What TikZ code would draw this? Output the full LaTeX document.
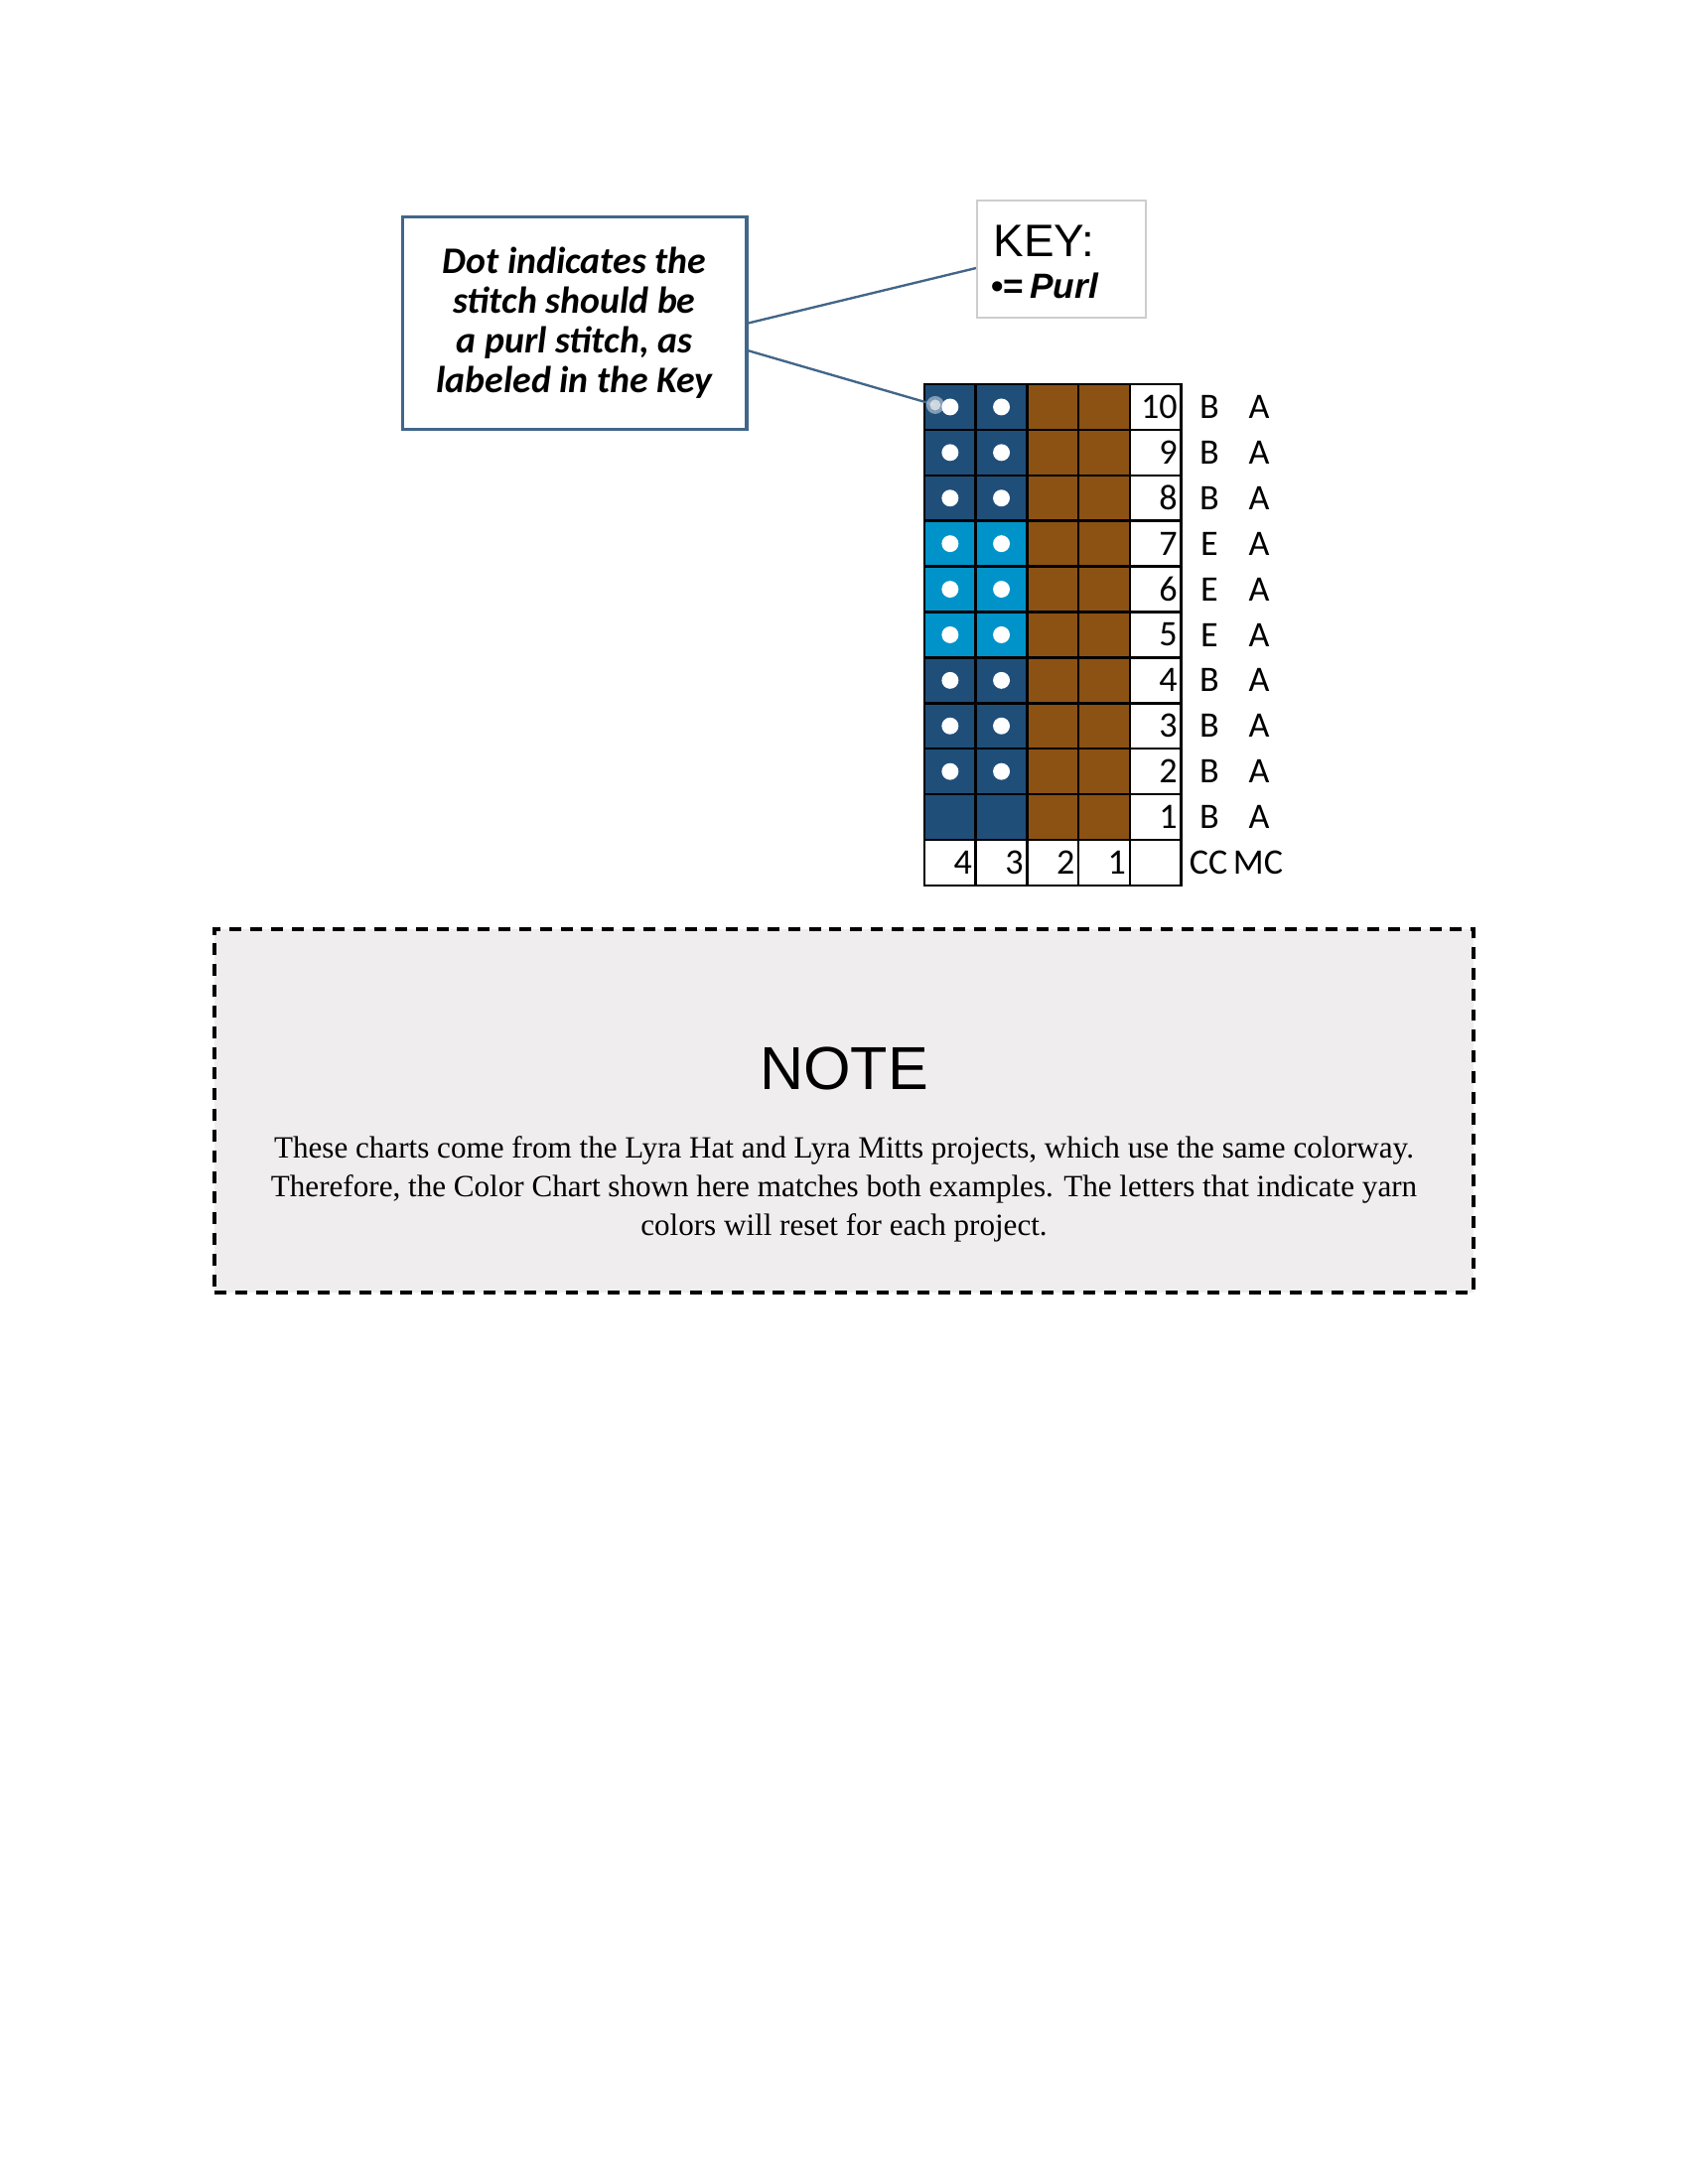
\documentclass[tikz,border=0pt]{standalone}
\usepackage{fontspec}
\setmainfont{Liberation Serif}
\newfontfamily\calfont{Carlito}
\newfontfamily\keyfont{Liberation Sans}
\usepackage{tikz}
\usetikzlibrary{
	calc,
	positioning
}
\definecolor{NavyYarn}{RGB}{31,78,121}
\definecolor{SkyYarn}{RGB}{0,147,201}
\definecolor{BrownYarn}{RGB}{139,82,20}
\definecolor{CalloutBlue}{RGB}{66,102,137}
\definecolor{KeyGray}{RGB}{205,205,205}
\definecolor{NoteGray}{RGB}{239,237,238}

\begin{document}
\begin{tikzpicture}[x=0.36pt,y=-0.36pt,
	calloutbox/.style={draw=CalloutBlue,line width=1.1pt,fill=white,minimum width=124.9pt,minimum height=76.7pt,inner sep=0pt,align=center,font=\calfont\bfseries\itshape\fontsize{13.6}{14.4}\selectfont},
	keybox/.style={draw=KeyGray,line width=0.8pt,fill=white,minimum width=61.2pt,minimum height=42.5pt,inner sep=0pt},
	stitch/.style={draw=black,line width=0.9pt,minimum width=18.6pt,minimum height=16.5pt,inner sep=0pt},
	chartnum/.style={inner sep=1.6pt,font=\calfont\fontsize{13}{13}\selectfont},
	yarn/.style={inner sep=0pt,font=\calfont\fontsize{13}{13}\selectfont},
	purldot/.style={fill=white,draw=none,circle,minimum size=6.1pt,inner sep=0pt},
	leader/.style={draw=CalloutBlue,line width=0.85pt},
	notebox/.style={draw=black,line width=1.45pt,dash pattern=on 4.3pt off 3.2pt,fill=NoteGray,minimum width=456.5pt,minimum height=131.8pt,inner sep=0pt}
	]
	\useasboundingbox (0,0) rectangle (1700,2200);
	
	% callout and key
	\node[calloutbox] (callout) at (578.5,325.5) {Dot indicates the\\stitch should be\\a purl stitch, as\\labeled in the Key};
	\node[keybox] (key) at (1069,261) {};
	\node[anchor=base west,inner sep=0pt,font=\keyfont\fontsize{16.5}{16.5}\selectfont] (keytitle) at (1000,259) {KEY:};
	\node[anchor=base west,inner sep=0pt,font=\keyfont\bfseries\fontsize{12.7}{12.7}\selectfont] (keypurl) at (998,301) {•=\,\itshape Purl};
	
	% chart: rows 1..10, columns 4..1 from left
	\foreach \r in {1,...,10}{
		\pgfmathsetmacro{\ry}{387+(10.5-\r)*45.9}
		\foreach \c in {1,...,4}{
			\pgfmathsetmacro{\cx}{931+(4.5-\c)*51.7}
			\ifnum\c>2
				\ifnum\r>4 \ifnum\r<8
					\def\yarncol{SkyYarn}
				\else
					\def\yarncol{NavyYarn}
				\fi \else
					\def\yarncol{NavyYarn}
				\fi
			\else
				\def\yarncol{BrownYarn}
			\fi
			\node[stitch,fill=\yarncol] (c-\r-\c) at (\cx,\ry) {};
			\ifnum\c>2 \ifnum\r>1
				\node[purldot] (dot-\r-\c) at (c-\r-\c) {};
			\fi\fi
		}
		\node[stitch,fill=white] (row-\r) at (1163.65,\ry) {};
		\node[chartnum,anchor=east] (num-\r) at (row-\r.east) {\r};
	}
	
	% letters for each row
	\foreach \r/\cc in {1/B,2/B,3/B,4/B,5/E,6/E,7/E,8/B,9/B,10/B}{
		\node[yarn] (cc-\r) at (1218,{387+(10.5-\r)*45.9}) {\cc};
		\node[yarn] (mc-\r) at (1268,{387+(10.5-\r)*45.9}) {A};
	}
	
	% column numbers
	\foreach \c in {1,...,4}{
		\node[stitch,fill=white] (col-\c) at ({931+(4.5-\c)*51.7},869.05) {};
		\node[chartnum,anchor=east] (colnum-\c) at (col-\c.east) {\c};
	}
	\node[stitch,fill=white] (corner) at (1163.65,869.05) {};
	\node[yarn] (cclabel) at (1217,869.05) {CC};
	\node[yarn] (mclabel) at (1267,869.05) {MC};
	
	% leader lines
	\coordinate (purltip) at ($(c-10-4.center)+(-15,-2)$);
	\draw[leader] (callout.east) -- (key.186);
	\draw[leader] (callout.-9) -- (purltip);
	\fill[white,opacity=0.45] (purltip) circle (9);
	\fill[white,opacity=0.6] (purltip) circle (5.5);
	
	% note
	\node[notebox] (note) at (850,1119) {};
	\node[font=\keyfont\fontsize{22}{22}\selectfont,inner sep=0pt] (notetitle) at (850,1076) {NOTE};
	\node[align=center,inner sep=0pt,font=\fontsize{11.2}{14}\selectfont] (notetext) at (850,1198) {These charts come from the Lyra Hat and Lyra Mitts projects, which use the same colorway.\\Therefore, the Color Chart shown here matches both examples. The letters that indicate yarn\\colors will reset for each project.};
\end{tikzpicture}
\end{document}
